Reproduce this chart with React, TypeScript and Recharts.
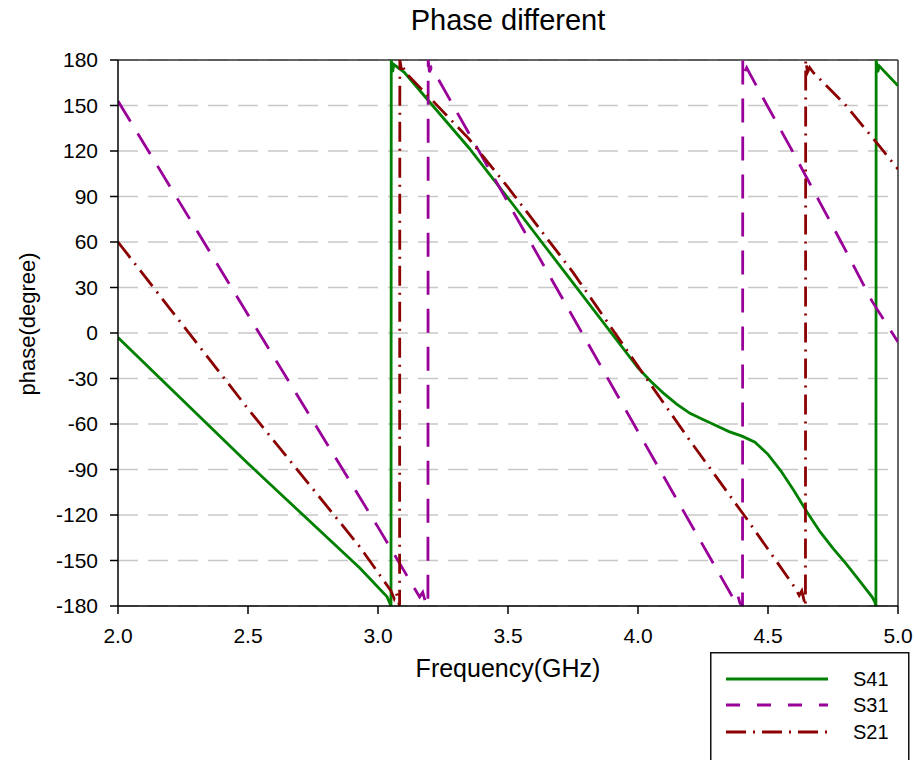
import React from 'react';
import { LineChart, Line, XAxis, YAxis, CartesianGrid, ReferenceLine, Label } from 'recharts';

const chartTitle = 'Phase different';
const xAxisTitle = 'Frequency(GHz)';
const yAxisTitle = 'phase(degree)';

const xTicks = [2.0, 2.5, 3.0, 3.5, 4.0, 4.5, 5.0];
const yTicks = [-180, -150, -120, -90, -60, -30, 0, 30, 60, 90, 120, 150, 180];

// S41 (green, solid)
const s41Freq = [2.0, 2.5, 2.93, 3.035, 3.045, 3.05, 3.051, 3.056, 3.061, 3.1, 3.2, 3.35, 3.5, 3.75, 4.0, 4.05, 4.1, 4.15, 4.2, 4.25, 4.3, 4.35, 4.4, 4.45, 4.5, 4.55, 4.6, 4.65, 4.7, 4.75, 4.8, 4.85, 4.9, 4.91, 4.915, 4.916, 4.922, 4.928, 5.0];
const s41Phase = [-3, -86, -155, -174, -178, -180, 180, 172, 177, 172, 152, 122, 89, 33, -23, -32, -40, -47, -53, -57, -61, -65, -68, -72, -80, -91, -104, -118, -131, -142, -152, -163, -174, -177, -180, 180, 172, 176, 163];

// S31 (purple, dashed)
const s31Freq = [2.0, 2.5, 3.0, 3.16, 3.172, 3.182, 3.192, 3.193, 3.198, 3.205, 3.22, 3.5, 4.0, 4.37, 4.382, 4.392, 4.402, 4.403, 4.41, 4.418, 4.43, 4.5, 4.6, 4.7, 4.8, 4.9, 5.0];
const s31Phase = [153, 12, -128, -174, -171, -177, -180, 180, 172, 175, 171, 86, -65, -176, -172, -178, -180, 180, 172, 175, 171, 149, 118, 86, 54, 21, -6];

// S21 (dark red, dash-dot)
const s21Freq = [2.0, 2.5, 2.93, 3.05, 3.062, 3.07, 3.083, 3.084, 3.092, 3.098, 3.104, 3.2, 3.35, 3.5, 3.75, 4.0, 4.2, 4.42, 4.6, 4.62, 4.63, 4.644, 4.645, 4.652, 4.66, 4.673, 4.8, 4.92, 5.0];
const s21Phase = [60, -50, -141, -170, -175, -171, -180, 180, 172, 175, 172, 155, 128, 96, 40, -22, -71, -123, -167, -173, -170, -180, 180, 172, 175, 172, 150, 125, 108];

const seriesNames = ['S41', 'S31', 'S21'];
const seriesColors = ['#008000', '#990099', '#8b0000'];
const seriesDash = [undefined, '24 14', '20 7 2 7'];
const legendDash = [undefined, '14 17', '20 7 2 7'];

const toPoints = (freq: number[], phase: number[]) =>
  freq.map((f, i) => ({ freq: f, phase: phase[i] }));

const seriesData = [
  toPoints(s41Freq, s41Phase),
  toPoints(s31Freq, s31Phase),
  toPoints(s21Freq, s21Phase),
];

const FONT = '"Liberation Sans", Arial, sans-serif';

const XTitle = (props: any) => {
  const vb = props.viewBox || {};
  return (
    <text x={vb.x + vb.width / 2} y={vb.y + vb.height - 5} textAnchor="middle" fontSize={25} fontFamily={FONT} fill="#000">
      {xAxisTitle}
    </text>
  );
};

const YTitle = (props: any) => {
  const vb = props.viewBox || {};
  const cx = vb.x + 9;
  const cy = vb.y + vb.height / 2 - 9;
  return (
    <text x={cx} y={cy} transform={`rotate(-90 ${cx} ${cy})`} textAnchor="middle" dominantBaseline="central" fontSize={22} fontFamily={FONT} fill="#000">
      {yAxisTitle}
    </text>
  );
};

const LegendBox = () => {
  const rows = [27, 53, 80];
  return (
    <svg width={204} height={112} style={{ position: 'absolute', left: 710, top: 652 }}>
      <rect x={0.75} y={0.75} width={198} height={130} fill="#fff" stroke="#111" strokeWidth={1.5} />
      {seriesNames.map((n, i) => (
        <g key={n}>
          <line x1={16} x2={118} y1={rows[i]} y2={rows[i]} stroke={seriesColors[i]} strokeWidth={2.8} strokeDasharray={legendDash[i]} />
          <text x={143} y={rows[i]} dominantBaseline="central" fontSize={20} fontFamily={FONT} fill="#000">{n}</text>
        </g>
      ))}
    </svg>
  );
};

export default function App() {
  return (
    <div style={{ position: 'absolute', left: 0, top: 0, width: 914, height: 760, overflow: 'hidden', background: '#fff', fontFamily: FONT }}>
      <div style={{ position: 'absolute', left: 308, width: 400, top: 6, textAlign: 'center', fontSize: 29, lineHeight: '29px', fontWeight: 'normal', color: '#000' }}>
        {chartTitle}
      </div>
      <LineChart width={914} height={760} margin={{ top: 60, right: 16, bottom: 78, left: 18 }}>
        <CartesianGrid vertical={false} stroke="#c8c8c8" strokeWidth={1.5} strokeDasharray="20 10" />
        <XAxis
          dataKey="freq"
          type="number"
          domain={[2, 5]}
          ticks={xTicks}
          allowDataOverflow
          height={76}
          tickFormatter={(v: number) => v.toFixed(1)}
          tick={{ fontSize: 21, fill: '#000', fontFamily: FONT }}
          tickSize={8}
          tickMargin={14}
          axisLine={{ stroke: '#000', strokeWidth: 1.5 }}
          tickLine={{ stroke: '#000', strokeWidth: 1.5 }}
        >
          <Label content={XTitle} />
        </XAxis>
        <YAxis
          type="number"
          domain={[-180, 180]}
          ticks={yTicks}
          allowDataOverflow
          width={100}
          tick={{ fontSize: 21, fill: '#000', fontFamily: FONT }}
          tickSize={8}
          tickMargin={12}
          axisLine={{ stroke: '#000', strokeWidth: 1.5 }}
          tickLine={{ stroke: '#000', strokeWidth: 1.5 }}
        >
          <Label content={YTitle} />
        </YAxis>
        <ReferenceLine y={180} stroke="#333" strokeWidth={1.5} />
        <ReferenceLine x={5} stroke="#333" strokeWidth={1.5} />
        {seriesData.map((d, i) => (
          <Line
            key={seriesNames[i]}
            data={d}
            dataKey="phase"
            name={seriesNames[i]}
            type="linear"
            dot={false}
            activeDot={false}
            stroke={seriesColors[i]}
            strokeWidth={2.8}
            strokeDasharray={seriesDash[i]}
            isAnimationActive={false}
          />
        ))}
      </LineChart>
      <LegendBox />
    </div>
  );
}
